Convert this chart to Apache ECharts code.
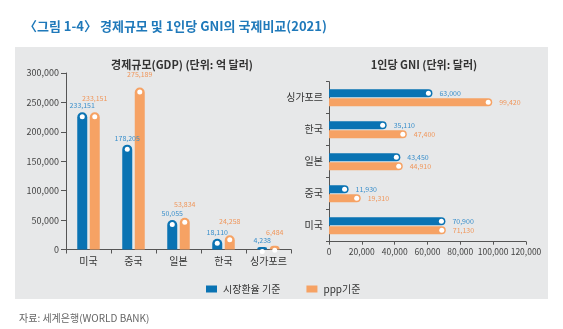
<!DOCTYPE html>
<html>
<head>
<meta charset="utf-8">
<script src="https://cdn.jsdelivr.net/npm/echarts@6/dist/echarts.min.js"></script>
<style>
  html, body { margin: 0; padding: 0; background: #ffffff; }
  #chart { width: 563px; height: 329px; }
</style>
</head>
<body>
<div id="chart"></div>
<script>
// Countries shared by both panels (bottom-to-top on the horizontal panel)
const countries = ['미국', '중국', '일본', '한국', '싱가포르'];

// GDP, 100 million USD
const gdpMarket = [233151, 178205, 50055, 18110, 4238];
const gdpPpp = [233151, 275189, 53834, 24258, 6484];

// GNI per capita, USD
const gniMarket = [70900, 11930, 43450, 35110, 63000];
const gniPpp = [71130, 19310, 44910, 47400, 99420];

const gdpTicks = [0, 50000, 100000, 150000, 200000, 250000, 300000];
const gniTicks = [0, 20000, 40000, 60000, 80000, 100000, 120000];

const seriesNames = ['시장환율 기준', 'ppp기준'];

const BLUE = '#0a73b3';
const ORANGE = '#f6a264';
const BLUE_TXT = '#3a8fcb';
const ORANGE_TXT = '#f0975c';
const FONT = '"Noto Sans CJK KR", "Noto Sans", sans-serif';

const fmt = v => Number(v).toLocaleString('en-US');

const chart = echarts.init(document.getElementById('chart'), null, { renderer: 'canvas' });

const axisLineStyle = { color: '#555', width: 1 };

function valueLabel(color, pos, dist) {
  return {
    show: true, position: pos, distance: dist,
    fontSize: 7, color: color, fontFamily: FONT,
    formatter: p => fmt(p.value)
  };
}

const option = {
  animation: false,
  textStyle: { fontFamily: FONT },
  graphic: {
    elements: [{
      type: 'rect', z: -10,
      shape: { x: 15, y: 47, width: 533, height: 252 },
      style: { fill: '#e7e8e9' }
    }]
  },
  title: [
    {
      text: '〈그림 1-4〉 경제규모 및 1인당 GNI의 국제비교(2021)',
      left: 19, top: 15,
      textStyle: { fontSize: 13, fontWeight: 'bold', color: '#1f79ba', fontFamily: FONT }
    },
    {
      text: '경제규모(GDP) (단위: 억 달러)',
      left: 177, top: 54, textAlign: 'center',
      textStyle: { fontSize: 11, fontWeight: 'bold', color: '#333', fontFamily: FONT }
    },
    {
      text: '1인당 GNI (단위: 달러)',
      left: 419, top: 54, textAlign: 'center',
      textStyle: { fontSize: 11, fontWeight: 'bold', color: '#333', fontFamily: FONT }
    },
    {
      text: '자료: 세계은행(WORLD BANK)',
      left: 14, top: 308,
      textStyle: { fontSize: 10, fontWeight: 'normal', color: '#666', fontFamily: FONT }
    }
  ],
  legend: {
    data: seriesNames,
    left: 201, top: 279,
    icon: 'rect', itemWidth: 11, itemHeight: 7, itemGap: 26,
    itemStyle: { borderRadius: 0 },
    textStyle: { fontSize: 10, color: '#333', fontFamily: FONT, padding: [0, 0, 0, 1] }
  },
  grid: [
    { left: 66, top: 73, width: 225, height: 176.5 },
    { left: 329, top: 81.7, width: 197, height: 160 }
  ],
  xAxis: [
    {
      gridIndex: 0, type: 'category', data: countries,
      axisLine: { lineStyle: axisLineStyle },
      axisTick: { show: true, length: 4, lineStyle: axisLineStyle },
      axisLabel: { interval: 0, fontSize: 10, color: '#333', margin: 7, fontFamily: FONT }
    },
    {
      gridIndex: 1, type: 'value',
      min: gniTicks[0], max: gniTicks[gniTicks.length - 1],
      interval: gniTicks[1] - gniTicks[0],
      axisLine: { show: true, lineStyle: axisLineStyle },
      axisTick: { show: true, length: 3, lineStyle: axisLineStyle },
      splitLine: { show: false },
      axisLabel: { fontSize: 8.5, color: '#444', margin: 6, formatter: v => fmt(v), fontFamily: FONT }
    }
  ],
  yAxis: [
    {
      gridIndex: 0, type: 'value',
      min: gdpTicks[0], max: gdpTicks[gdpTicks.length - 1],
      interval: gdpTicks[1] - gdpTicks[0],
      axisLine: { show: true, lineStyle: axisLineStyle },
      axisTick: { show: true, length: 5, lineStyle: axisLineStyle },
      splitLine: { show: false },
      axisLabel: { fontSize: 9, color: '#444', margin: 7, formatter: v => fmt(v), fontFamily: FONT }
    },
    {
      gridIndex: 1, type: 'category', data: countries,
      axisLine: { lineStyle: axisLineStyle },
      axisTick: { show: true, length: 3, lineStyle: axisLineStyle },
      axisLabel: { interval: 0, fontSize: 10, color: '#333', margin: 6, fontFamily: FONT }
    }
  ],
  series: [
    // GDP columns
    {
      name: seriesNames[0], type: 'bar', xAxisIndex: 0, yAxisIndex: 0,
      data: gdpMarket, barWidth: 10, barGap: '25%',
      itemStyle: { color: BLUE, borderRadius: [5, 5, 0, 0] },
      label: valueLabel(BLUE_TXT, 'top', 3)
    },
    {
      name: seriesNames[1], type: 'bar', xAxisIndex: 0, yAxisIndex: 0,
      data: gdpPpp, barWidth: 10, barGap: '25%',
      itemStyle: { color: ORANGE, borderRadius: [5, 5, 0, 0] },
      label: valueLabel(ORANGE_TXT, 'top', 10)
    },
    // white dots at the top of each column
    {
      name: 'gdpMarketDot', type: 'pictorialBar', xAxisIndex: 0, yAxisIndex: 0,
      data: gdpMarket, barWidth: 10, barGap: '25%', z: 5,
      symbol: 'circle', symbolSize: [5, 5], symbolPosition: 'end', symbolOffset: [0, 2],
      itemStyle: { color: '#ffffff' }, silent: true
    },
    {
      name: 'gdpPppDot', type: 'pictorialBar', xAxisIndex: 0, yAxisIndex: 0,
      data: gdpPpp, barWidth: 10, barGap: '25%', z: 5,
      symbol: 'circle', symbolSize: [5, 5], symbolPosition: 'end', symbolOffset: [0, 2],
      itemStyle: { color: '#ffffff' }, silent: true
    },
    // GNI bars: market-rate bar on top, ppp bar below it
    {
      name: seriesNames[0], type: 'bar', xAxisIndex: 1, yAxisIndex: 1,
      data: gniMarket, barWidth: 8, barGap: '12%',
      itemStyle: { color: BLUE, borderRadius: [0, 4, 4, 0] },
      label: valueLabel(BLUE_TXT, 'right', 7)
    },
    {
      name: seriesNames[1], type: 'bar', xAxisIndex: 1, yAxisIndex: 1,
      data: gniPpp, barWidth: 8, barGap: '12%',
      itemStyle: { color: ORANGE, borderRadius: [0, 4, 4, 0] },
      label: valueLabel(ORANGE_TXT, 'right', 7)
    },
    {
      name: 'gniMarketDot', type: 'pictorialBar', xAxisIndex: 1, yAxisIndex: 1,
      data: gniMarket, barWidth: 8, barGap: '12%', z: 5,
      symbol: 'circle', symbolSize: [5, 5], symbolPosition: 'end', symbolOffset: [-1.5, 0],
      itemStyle: { color: '#ffffff' }, silent: true
    },
    {
      name: 'gniPppDot', type: 'pictorialBar', xAxisIndex: 1, yAxisIndex: 1,
      data: gniPpp, barWidth: 8, barGap: '12%', z: 5,
      symbol: 'circle', symbolSize: [5, 5], symbolPosition: 'end', symbolOffset: [-1.5, 0],
      itemStyle: { color: '#ffffff' }, silent: true
    }
  ]
};

chart.setOption(option);
</script>
</body>
</html>
